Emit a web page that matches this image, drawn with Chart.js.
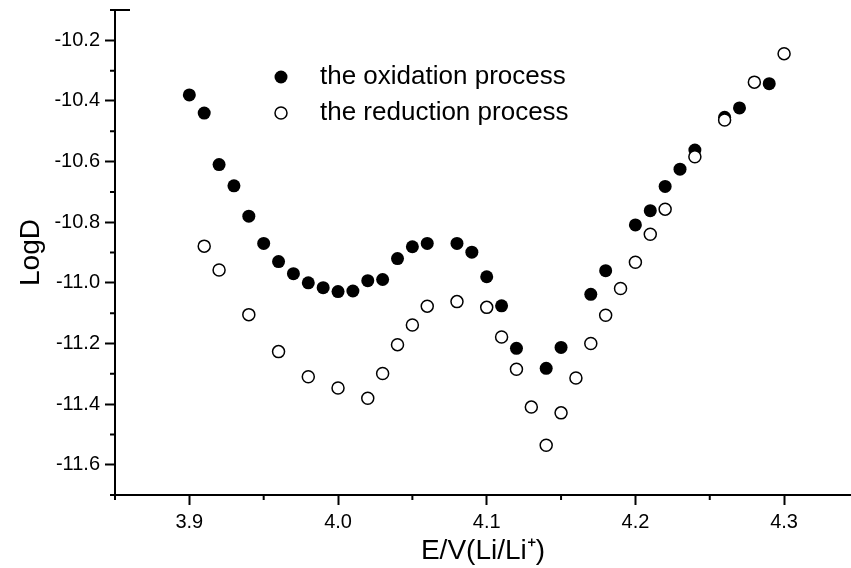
<!DOCTYPE html>
<html>
<head>
<meta charset="utf-8">
<style>
  html, body { margin: 0; padding: 0; background: #fff; }
  #wrap { width: 851px; height: 568px; }
</style>
<script src="https://cdn.jsdelivr.net/npm/chart.js@4.4.1/dist/chart.umd.min.js"></script>
</head>
<body>
<div id="wrap"><canvas id="chart" width="851" height="568"></canvas></div>
<script>
// oxidation process (filled circles)
const oxE = [3.90, 3.91, 3.92, 3.93, 3.94, 3.95, 3.96, 3.97, 3.98, 3.99, 4.00, 4.01, 4.02, 4.03,
  4.04, 4.05, 4.06, 4.08, 4.09, 4.10, 4.11, 4.12, 4.14, 4.15, 4.17, 4.18, 4.20, 4.21, 4.22,
  4.23, 4.24, 4.26, 4.27, 4.29];
const oxLogD = [-10.38, -10.44, -10.61, -10.68, -10.78, -10.87, -10.93, -10.97, -11.00, -11.016,
  -11.029, -11.027, -10.993, -10.989, -10.92, -10.881, -10.870, -10.870, -10.899, -10.98,
  -11.076, -11.216, -11.282, -11.213, -11.038, -10.96, -10.809, -10.762, -10.682, -10.625,
  -10.562, -10.454, -10.423, -10.343];

// reduction process (open circles)
const redE = [3.91, 3.92, 3.94, 3.96, 3.98, 4.00, 4.02, 4.03, 4.04, 4.05, 4.06, 4.08, 4.10, 4.11,
  4.12, 4.13, 4.14, 4.15, 4.16, 4.17, 4.18, 4.19, 4.20, 4.21, 4.22, 4.24, 4.26, 4.28, 4.30];
const redLogD = [-10.879, -10.958, -11.105, -11.227, -11.31, -11.347, -11.381, -11.299, -11.204,
  -11.139, -11.077, -11.062, -11.081, -11.179, -11.285, -11.41, -11.536, -11.429, -11.314,
  -11.20, -11.107, -11.019, -10.932, -10.84, -10.757, -10.584, -10.463, -10.338, -10.244];

const xTicks = [3.9, 4.0, 4.1, 4.2, 4.3];
const xMinor = [3.85, 3.95, 4.05, 4.15, 4.25];
const yTicks = [-11.6, -11.4, -11.2, -11.0, -10.8, -10.6, -10.4, -10.2];
const yMinor = [-11.7, -11.5, -11.3, -11.1, -10.9, -10.7, -10.5, -10.3, -10.1];

const labelFont = { family: "'Liberation Sans', Arial, sans-serif", size: 20 };
const titleFont = { family: "'Liberation Sans', Arial, sans-serif", size: 28 };

const toPoints = (xs, ys) => xs.map((x, i) => ({ x: x, y: ys[i] }));

// minor ticks, the little top stub and the legend box
const extras = {
  id: "extras",
  afterDraw(chart) {
    const ctx = chart.ctx;
    const xs = chart.scales.x, ys = chart.scales.y;
    const area = chart.chartArea;
    ctx.save();
    ctx.strokeStyle = "#000";
    ctx.lineWidth = 2;
    ctx.beginPath();
    xMinor.forEach((v) => {
      const px = xs.getPixelForValue(v);
      ctx.moveTo(px, area.bottom);
      ctx.lineTo(px, area.bottom + 5);
    });
    yMinor.forEach((v) => {
      const py = ys.getPixelForValue(v);
      ctx.moveTo(area.left, py);
      ctx.lineTo(area.left - 5, py);
    });
    ctx.moveTo(area.left, area.top);
    ctx.lineTo(area.left + 15, area.top);
    ctx.stroke();

    // legend
    const items = chart.data.datasets;
    const lx = area.left + 166, ly = area.top + 67, gap = 36;
    ctx.font = "26px 'Liberation Sans', Arial, sans-serif";
    ctx.textBaseline = "middle";
    items.forEach((ds, i) => {
      const y = ly + gap * i;
      ctx.beginPath();
      ctx.arc(lx, y, ds.pointRadius, 0, Math.PI * 2);
      ctx.fillStyle = ds.backgroundColor;
      ctx.fill();
      if (ds.borderWidth) {
        ctx.lineWidth = ds.borderWidth;
        ctx.strokeStyle = ds.borderColor;
        ctx.stroke();
      }
      ctx.fillStyle = "#000";
      ctx.fillText(ds.label, lx + 39, y);
    });
    ctx.restore();
  }
};

new Chart(document.getElementById("chart"), {
  type: "scatter",
  data: {
    datasets: [
      {
        label: "the oxidation process",
        data: toPoints(oxE, oxLogD),
        pointRadius: 6.5,
        backgroundColor: "#000",
        borderColor: "#000",
        borderWidth: 0,
        order: 1
      },
      {
        label: "the reduction process",
        data: toPoints(redE, redLogD),
        pointRadius: 6,
        backgroundColor: "#fff",
        borderColor: "#000",
        borderWidth: 1.5,
        order: 0
      }
    ]
  },
  options: {
    responsive: false,
    devicePixelRatio: 1,
    animation: false,
    layout: { autoPadding: false, padding: { top: 10, right: 0, left: 0, bottom: 0 } },
    plugins: {
      legend: { display: false },
      tooltip: { enabled: false }
    },
    scales: {
      x: {
        type: "linear",
        min: 3.85,
        max: 4.345,
        afterBuildTicks: (s) => { s.ticks = xTicks.map((v) => ({ value: v })); },
        afterFit: (s) => { s.height = 73; s.paddingLeft = 0; s.paddingRight = 0; },
        border: { display: true, color: "#000", width: 2 },
        grid: { drawOnChartArea: false, drawTicks: true, tickLength: 10, tickWidth: 2, tickColor: "#000" },
        ticks: {
          color: "#000",
          font: labelFont,
          padding: 5,
          maxRotation: 0,
          autoSkip: false,
          callback: (v) => Number(v).toFixed(1)
        },
        title: { display: true, text: "E/V(Li/Li\u207A)", color: "#000", font: titleFont, padding: { top: 0, bottom: 0 } }
      },
      y: {
        type: "linear",
        min: -11.7,
        max: -10.1,
        afterBuildTicks: (s) => { s.ticks = yTicks.map((v) => ({ value: v })); },
        afterFit: (s) => { s.width = 115; s.paddingTop = 0; s.paddingBottom = 0; },
        border: { display: true, color: "#000", width: 2 },
        grid: { drawOnChartArea: false, drawTicks: true, tickLength: 10, tickWidth: 2, tickColor: "#000" },
        ticks: {
          color: "#000",
          font: labelFont,
          padding: 5,
          autoSkip: false,
          callback: (v) => Number(v).toFixed(1)
        },
        title: { display: true, text: "LogD", color: "#000", font: titleFont, padding: { top: 14, bottom: 0 } }
      }
    }
  },
  plugins: [extras]
});
</script>
</body>
</html>
